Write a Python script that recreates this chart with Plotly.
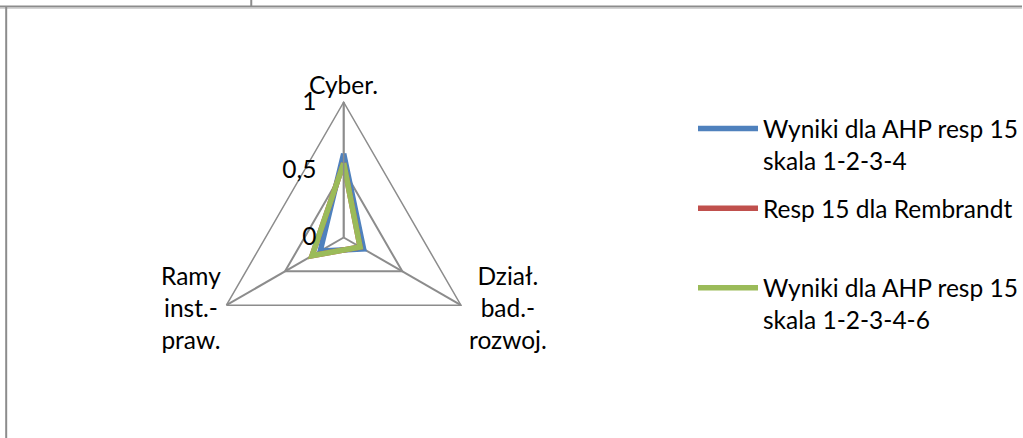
import plotly.graph_objects as go

# Axis categories of the radar and the three result series
categories = ["Cyber.", "Dział. bad.-rozwoj.", "Ramy inst.-praw."]
category_labels = ["Cyber.", "Dział.<br>bad.-<br>rozwoj.", "Ramy<br>inst.-<br>praw."]
ahp_1234 = [0.62, 0.17, 0.20]
rembrandt = [0.55, 0.14, 0.27]
ahp_12346 = [0.55, 0.14, 0.27]
series_names = [
    "Wyniki dla AHP resp 15<br>skala 1-2-3-4",
    "Resp 15 dla Rembrandt<br>\u00a0",
    "Wyniki dla AHP resp 15<br>skala 1-2-3-4-6",
]
series_colors = ["#4F81BD", "#C0504D", "#9BBB59"]
radial_ticks = [0, 0.5, 1]
radial_tick_text = ["0", "0,5", "1"]

W, H = 1023, 438
FONT = "Lato"
GRID = "#8C8C8C"


def px(x):
    return x / W


def py(y):
    return 1 - y / H


fig = go.Figure()
for name, vals, col in zip(series_names, [ahp_1234, rembrandt, ahp_12346], series_colors):
    fig.add_trace(go.Scatterpolar(
        r=vals + vals[:1],
        theta=categories + categories[:1],
        mode="lines",
        name=name,
        legendgroup=name,
        line=dict(color=col, width=5.5),
    ))

# polar area: centre (344, 237.5), radius 135.5 px
cx, cy, rad = 344, 237.5, 135.5
fig.update_layout(
    width=W, height=H,
    margin=dict(l=0, r=0, t=0, b=0),
    paper_bgcolor="white",
    plot_bgcolor="white",
    font=dict(family=FONT, size=24.5, color="#000000"),
    polar=dict(
        domain=dict(x=[px(cx - rad), px(cx + rad)], y=[py(cy + rad), py(cy - rad)]),
        bgcolor="white",
        gridshape="linear",
        radialaxis=dict(
            range=[0, 1], angle=90, side="counterclockwise", tickangle=90,
            tickvals=radial_ticks, ticktext=radial_tick_text,
            ticks="outside", ticklen=18, tickcolor="rgba(0,0,0,0)",
            showline=True, linecolor=GRID, linewidth=1.5,
            showgrid=True, gridcolor=GRID, gridwidth=1.5,
            tickfont=dict(family=FONT, size=24.5),
        ),
        angularaxis=dict(
            rotation=90, direction="clockwise",
            showticklabels=False, ticks="",
            showline=True, linecolor=GRID, linewidth=1.5,
            showgrid=True, gridcolor=GRID, gridwidth=1.5,
        ),
    ),
    showlegend=True,
    legend=dict(
        x=px(694), y=py(106), xanchor="left", yanchor="top",
        valign="top", itemwidth=60, tracegroupgap=13,
        font=dict(family=FONT, size=24.5),
        bgcolor="rgba(0,0,0,0)",
    ),
)

# category names outside the vertices
label_pos = [(343.5, 84), (508, 307), (191, 307)]
for txt, (lx, ly) in zip(category_labels, label_pos):
    fig.add_annotation(
        x=px(lx), y=py(ly), xref="paper", yref="paper",
        text=txt, showarrow=False, xanchor="center", yanchor="middle",
        align="center", font=dict(family=FONT, size=24.5),
    )

# sheet cell borders around the chart
border = dict(color="#8C8C8C", width=2)
fig.add_shape(type="line", xref="paper", yref="paper", x0=0, x1=1, y0=py(6.5), y1=py(6.5), line=border)
fig.add_shape(type="line", xref="paper", yref="paper", x0=0, x1=1, y0=py(8.5), y1=py(8.5),
              line=dict(color="#D4D4D4", width=1))
fig.add_shape(type="line", xref="paper", yref="paper", x0=px(6.2), x1=px(6.2), y0=0, y1=py(7), line=border)
fig.add_shape(type="line", xref="paper", yref="paper", x0=px(251.5), x1=px(251.5), y0=py(0), y1=py(6), line=border)

fig.write_html("out.html")
